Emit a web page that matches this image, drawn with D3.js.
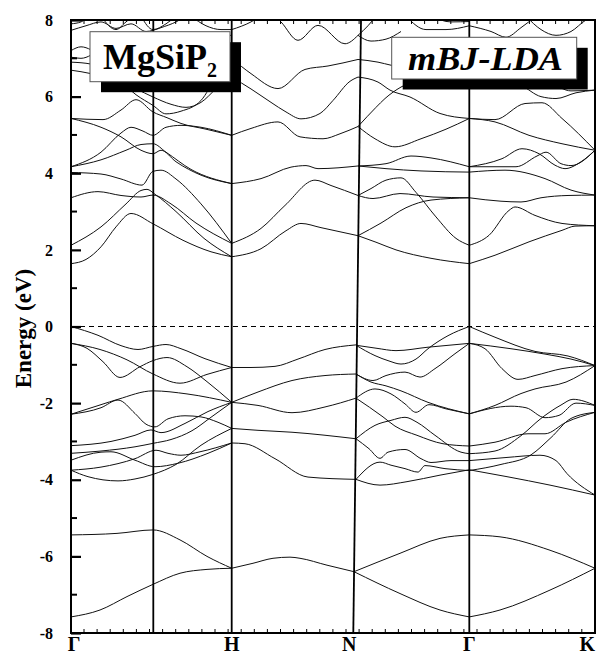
<!DOCTYPE html>
<html>
<head>
<meta charset="utf-8">
<script src="https://cdn.jsdelivr.net/npm/d3@7"></script>
<style>
  html, body { margin: 0; padding: 0; background: #fff; }
  svg { display: block; }
  text { font-family: "Liberation Serif", "DejaVu Serif", serif; font-weight: bold; }
</style>
</head>
<body>
<div id="chart"></div>
<script>
// ---- data: k path (arbitrary units), energies in eV ----
const symLabels   = ['Γ', '', 'H', 'N', 'Γ', 'K'];
const symKTop     = [0, 0.823, 1.607, 2.90, 3.983, 5.24];
const symKBottom  = [0, 0.823, 1.607, 2.823, 3.983, 5.24];
const yTicksMajor = [-8, -6, -4, -2, 0, 2, 4, 6, 8];
const yTicksMinor = [-7, -5, -3, -1, 1, 3, 5, 7];

// valence bands, Γ - H
const valGH = [
  [[0,0],[0.27,-0.23],[0.5,-0.5],[0.67,-0.6],[0.82,-0.52],[0.95,-0.47],[1.1,-0.58],[1.34,-0.84],[1.607,-1.07]],
  [[0,-0.44],[0.29,-0.6],[0.56,-0.87],[0.82,-1.24],[1.09,-1.48],[1.36,-1.25],[1.607,-1.07]],
  [[0,-0.44],[0.16,-0.57],[0.32,-0.92],[0.49,-1.33],[0.69,-1.05],[0.82,-0.89],[0.96,-0.81],[1.16,-1.05],[1.36,-1.44],[1.607,-1.98]],
  [[0,-2.29],[0.3,-2.04],[0.47,-1.9],[0.82,-1.68],[1.16,-1.76],[1.607,-1.98]],
  [[0,-2.29],[0.3,-2.12],[0.47,-1.92],[0.64,-2.27],[0.75,-2.55],[0.84,-2.62],[0.97,-2.41],[1.14,-2.33],[1.3,-2.36],[1.47,-2.5],[1.607,-2.66]],
  [[0,-3.11],[0.4,-3.0],[0.64,-2.84],[0.8,-2.7],[0.9,-2.77],[1.14,-2.53],[1.37,-2.22],[1.607,-1.98]],
  [[0,-3.31],[0.3,-3.25],[0.64,-3.14],[0.82,-3.05],[1.0,-2.95],[1.21,-2.72],[1.41,-2.35],[1.607,-1.98]],
  [[0,-3.49],[0.3,-3.28],[0.4,-3.27],[0.64,-3.49],[0.84,-3.66],[1.07,-3.57],[1.37,-3.31],[1.607,-3.04]],
  [[0,-3.75],[0.3,-3.67],[0.64,-3.45],[0.85,-3.23],[0.97,-3.31],[1.1,-3.36],[1.29,-3.27],[1.607,-3.04]],
  [[0,-3.75],[0.17,-3.92],[0.47,-4.03],[0.64,-3.98],[0.82,-3.86],[1.05,-3.6],[1.3,-3.1],[1.607,-2.66]]
];
// valence bands, H - N
const valHN = [
  [[1.607,-1.07],[1.8,-1.07],[2.04,-1.04],[2.27,-0.85],[2.54,-0.6],[2.85,-0.48]],
  [[1.607,-1.98],[1.87,-1.71],[2.21,-1.41],[2.54,-1.28],[2.85,-1.24]],
  [[1.607,-1.98],[1.87,-2.06],[2.21,-2.25],[2.54,-2.1],[2.85,-1.87]],
  [[1.607,-2.66],[1.87,-2.71],[2.21,-2.76],[2.85,-2.93]],
  [[1.607,-3.04],[1.74,-3.06],[2.04,-3.45],[2.37,-3.93],[2.85,-3.99]]
];
// valence bands, N - Γ
const valNG = [
  [[2.85,-0.49],[3.06,-0.57],[3.25,-0.63],[3.57,-0.54],[3.983,-0.44]],
  [[2.85,-0.49],[3.04,-0.76],[3.18,-0.9],[3.3,-0.98],[3.45,-0.85],[3.57,-0.58],[3.77,-0.24],[3.983,0]],
  [[2.85,-1.24],[3.02,-1.41],[3.15,-1.28],[3.34,-1.19],[3.49,-1.32],[3.64,-1.1],[3.84,-0.71],[3.983,-0.44]],
  [[2.85,-1.24],[3.0,-1.45],[3.15,-1.55],[3.3,-1.68],[3.57,-1.98],[3.983,-2.28]],
  [[2.85,-1.87],[3.04,-1.63],[3.2,-1.76],[3.34,-2.02],[3.45,-2.24],[3.58,-2.04],[3.75,-2.15],[3.983,-2.28]],
  [[2.85,-1.87],[3.12,-2.36],[3.24,-2.6],[3.46,-2.84],[3.72,-3.06],[3.983,-3.12]],
  [[2.85,-2.93],[3.04,-2.58],[3.2,-2.45],[3.34,-2.37],[3.46,-2.5],[3.64,-2.84],[3.9,-3.28],[3.983,-3.32]],
  [[2.85,-2.93],[2.98,-3.19],[3.09,-3.44],[3.17,-3.28],[3.34,-3.21],[3.5,-3.45],[3.6,-3.55],[3.8,-3.5],[3.983,-3.5]],
  [[2.85,-3.99],[3.09,-3.54],[3.2,-3.62],[3.34,-3.71],[3.47,-3.8],[3.54,-3.63],[3.74,-3.71],[3.983,-3.76]],
  [[2.85,-3.99],[3.09,-4.14],[3.36,-4.05],[3.69,-3.88],[3.983,-3.74]]
];
// valence bands, Γ - K
const valGK = [
  [[3.983,0],[4.24,-0.28],[4.64,-0.65],[4.97,-0.77],[5.24,-1.02]],
  [[3.983,-0.44],[4.4,-0.58],[4.74,-0.72],[5.0,-0.85],[5.24,-1.02]],
  [[3.983,-0.44],[4.14,-0.58],[4.31,-1.1],[4.47,-1.38],[4.64,-1.28],[4.91,-1.1],[5.24,-1.02]],
  [[3.983,-2.28],[4.24,-2.06],[4.5,-1.75],[4.64,-1.63],[4.95,-1.45],[5.24,-1.02]],
  [[3.983,-2.28],[4.4,-2.08],[4.55,-2.12],[4.74,-2.38],[4.88,-2.32],[5.05,-2.0],[5.24,-2.06]],
  [[3.983,-3.12],[4.24,-3.02],[4.57,-2.8],[4.74,-2.8],[4.95,-2.5],[5.24,-2.24]],
  [[3.983,-3.32],[4.24,-3.25],[4.5,-2.85],[4.7,-2.4],[4.9,-2.05],[5.02,-1.9],[5.24,-2.06]],
  [[3.983,-3.5],[4.35,-3.42],[4.69,-3.36],[4.85,-3.5],[4.96,-3.84],[5.24,-4.4]],
  [[3.983,-3.74],[4.36,-3.92],[4.79,-4.14],[5.24,-4.4]],
  [[3.983,-3.76],[4.3,-3.6],[4.6,-3.35],[4.8,-2.9],[5.0,-2.4],[5.24,-2.24]]
];
// lower valence bands, whole path
const lowBands = [
  [[0,-5.44],[0.46,-5.4],[0.82,-5.31],[1.09,-5.57],[1.36,-6.0],[1.607,-6.31]],
  [[0,-7.58],[0.29,-7.4],[0.56,-7.05],[0.82,-6.73],[1.09,-6.44],[1.36,-6.34],[1.607,-6.31]],
  [[1.607,-6.31],[1.82,-6.18],[2.02,-6.05],[2.19,-6.02],[2.29,-6.05],[2.56,-6.23],[2.83,-6.4]],
  [[2.83,-6.4],[3.29,-5.92],[3.69,-5.53],[3.983,-5.44]],
  [[2.83,-6.4],[3.29,-6.97],[3.69,-7.4],[3.983,-7.58]],
  [[3.983,-5.44],[4.29,-5.49],[4.79,-5.84],[5.24,-6.31]],
  [[3.983,-7.58],[4.29,-7.4],[4.79,-6.88],[5.24,-6.31]]
];
// conduction bands, Γ - H
const conGH = [
  [[0,1.64],[0.15,1.75],[0.3,2.08],[0.45,2.6],[0.6,2.95],[0.82,2.68],[1.12,2.25],[1.4,1.95],[1.607,1.82]],
  [[0,2.12],[0.3,2.6],[0.55,3.2],[0.7,3.55],[0.76,3.58],[0.84,3.45],[1.05,3.0],[1.33,2.3],[1.607,1.82]],
  [[0,3.36],[0.27,3.52],[0.5,3.42],[0.7,3.38],[0.82,3.43],[1.0,3.2],[1.25,2.7],[1.607,2.17]],
  [[0,4.02],[0.3,3.98],[0.5,3.85],[0.71,3.69],[0.82,4.05],[0.9,4.08],[1.05,3.85],[1.3,3.2],[1.607,2.17]],
  [[0,4.17],[0.3,4.55],[0.5,5.05],[0.6,5.2],[0.72,5.1],[0.82,4.99],[0.95,5.2],[1.1,5.25],[1.3,5.2],[1.607,4.99]],
  [[0,4.17],[0.3,4.35],[0.55,4.6],[0.7,4.75],[0.82,4.77],[0.95,4.55],[1.2,4.1],[1.607,3.73]],
  [[0,5.43],[0.3,5.2],[0.5,4.95],[0.7,4.6],[0.82,4.51],[0.9,4.6],[1.05,4.3],[1.3,3.95],[1.607,3.73]],
  [[0,5.43],[0.32,5.4],[0.5,5.65],[0.65,5.92],[0.82,5.6],[0.96,5.45],[1.1,5.3],[1.35,5.15],[1.607,4.99]],
  [[0,6.69],[0.2,6.6],[0.45,6.4],[0.65,6.2],[0.82,5.99],[1.0,5.8],[1.15,5.72],[1.3,5.85],[1.45,6.2],[1.607,6.51]],
  [[0,6.9],[0.2,6.85],[0.45,6.5],[0.65,6.05],[0.82,5.77],[0.95,5.55],[1.1,5.62],[1.3,5.9],[1.45,6.5],[1.607,7.0]],
  [[0,7.03],[0.1,7.0],[0.3,7.2],[0.6,7.3],[1.0,7.5],[1.607,7.6]],
  [[0,7.2],[0.1,7.3],[0.3,7.1],[0.6,6.9],[1.0,6.8],[1.607,7.0]],
  [[0,7.9],[0.1,7.95],[0.18,8.1]],
  [[0,7.73],[0.15,7.85],[0.3,7.95],[0.45,7.78],[0.6,7.9],[0.75,7.7],[0.82,7.73],[0.9,7.8],[1.05,7.95],[1.15,8.1]],
  [[0.3,8.1],[0.45,7.75],[0.55,7.95],[0.62,8.1]],
  [[0.7,8.1],[0.82,7.75],[0.95,7.9],[1.05,8.1]],
  [[1.2,8.1],[1.35,7.85],[1.5,7.75],[1.607,7.75]]
];
// conduction bands, H - N
const conHN = [
  [[1.607,1.82],[1.9,2.03],[2.15,2.5],[2.3,2.69],[2.5,2.58],[2.87,2.37]],
  [[1.607,2.17],[1.9,2.56],[2.14,3.16],[2.44,3.82],[2.6,3.68],[2.87,3.42]],
  [[1.607,3.73],[1.9,3.86],[2.2,4.16],[2.35,4.2],[2.47,4.12],[2.87,4.19]],
  [[1.607,4.99],[1.8,5.17],[2.07,5.34],[2.29,4.95],[2.52,4.9],[2.69,5.03],[2.87,5.22]],
  [[1.607,6.51],[1.8,6.2],[2.0,5.85],[2.15,5.6],[2.3,5.42],[2.49,5.56],[2.62,5.9],[2.79,6.4],[2.87,6.51]],
  [[1.607,7.0],[1.8,6.6],[2.07,6.21],[2.34,6.71],[2.57,6.8],[2.87,6.97]],
  [[2.0,8.2],[2.1,7.95],[2.27,7.47],[2.47,7.86],[2.74,7.38],[2.87,7.6]],
  [[1.607,7.75],[1.8,7.95],[1.95,8.2]]
];
// conduction bands, N - Γ
const conNG = [
  [[2.87,2.37],[3.05,2.2],[3.25,2.0],[3.6,1.78],[3.983,1.64]],
  [[2.87,2.37],[3.1,2.7],[3.35,3.1],[3.6,3.3],[3.983,3.36]],
  [[2.87,3.42],[3.0,3.6],[3.15,3.82],[3.3,3.88],[3.45,3.5],[3.65,2.86],[3.85,2.3],[3.983,2.12]],
  [[2.87,3.42],[3.02,3.34],[3.29,3.47],[3.62,3.38],[3.983,3.36]],
  [[2.87,4.19],[3.15,4.25],[3.4,4.45],[3.6,4.4],[3.983,4.17]],
  [[2.87,4.19],[3.15,4.12],[3.5,4.06],[3.983,4.03]],
  [[2.87,5.22],[3.04,4.9],[3.24,4.69],[3.5,4.9],[3.75,5.15],[3.983,5.43]],
  [[2.87,5.22],[3.05,5.72],[3.14,5.95],[3.3,6.25],[3.5,6.45],[3.983,6.7]],
  [[2.87,6.51],[3.07,6.38],[3.19,6.17],[3.39,5.99],[3.69,5.56],[3.983,5.43]],
  [[2.87,6.97],[3.07,6.9],[3.2,6.82],[3.5,6.7],[3.983,6.8]],
  [[2.87,7.6],[3.0,7.45],[3.15,7.5],[3.3,7.7]],
  [[2.87,7.6],[2.97,7.85],[3.05,8.1]],
  [[3.35,8.1],[3.55,7.75],[3.75,7.75],[3.983,7.85]],
  [[3.6,8.1],[3.8,7.95],[3.983,7.96]]
];
// conduction bands, Γ - K
const conGK = [
  [[3.983,1.64],[4.24,1.86],[4.58,2.21],[4.91,2.51],[5.04,2.62],[5.24,2.63]],
  [[3.983,2.12],[4.18,2.38],[4.38,3.03],[4.44,3.12],[4.64,2.9],[4.91,2.69],[5.24,2.63]],
  [[3.983,3.36],[4.3,3.27],[4.5,3.25],[4.7,3.36],[4.97,3.42],[5.24,3.43]],
  [[3.983,4.03],[4.34,4.08],[4.74,3.86],[5.0,3.56],[5.24,3.43]],
  [[3.983,4.17],[4.31,4.38],[4.51,4.64],[4.68,4.51],[4.84,4.21],[4.94,4.12],[5.1,4.3],[5.24,4.6]],
  [[3.983,4.17],[4.45,4.17],[4.66,4.45],[4.75,4.55],[4.9,4.25],[5.0,4.2],[5.24,4.6]],
  [[3.983,5.43],[4.24,5.34],[4.58,4.99],[4.91,4.77],[5.24,4.6]],
  [[3.983,5.43],[4.24,5.4],[4.54,5.82],[4.71,5.84],[4.91,5.43],[5.24,4.6]],
  [[3.983,6.7],[4.3,6.5],[4.5,6.3],[4.7,6.0],[4.85,5.95],[5.05,6.1],[5.24,6.17]],
  [[3.983,6.8],[4.4,6.7],[4.8,6.35],[5.0,6.15],[5.24,6.17]],
  [[3.983,7.85],[4.2,7.7],[4.35,7.55],[4.5,7.8],[4.65,8.1]],
  [[4.55,8.1],[4.7,7.75],[4.85,7.6],[5.0,7.7],[5.15,8.0],[5.24,8.1]]
];
const bandSets = [valGH, valHN, valNG, valGK, lowBands, conGH, conHN, conNG, conGK];

// ---- layout ----
const W = 598, H = 657;
const margin = { top: 20, right: 3, bottom: 24, left: 71 };

const svg = d3.select('#chart').append('svg')
  .attr('width', W).attr('height', H);

const x = d3.scaleLinear().domain([0, 5.24]).range([margin.left, W - margin.right]);
const y = d3.scaleLinear().domain([-8, 8]).range([H - margin.bottom, margin.top]);

svg.append('defs').append('clipPath').attr('id', 'plot-clip')
  .append('rect')
    .attr('x', x(0)).attr('y', y(8))
    .attr('width', x(5.24) - x(0)).attr('height', y(-8) - y(8));

const line = d3.line()
  .x(d => x(d[0]))
  .y(d => y(d[1]))
  .curve(d3.curveMonotoneX);

const plot = svg.append('g').attr('clip-path', 'url(#plot-clip)');

// bands
plot.selectAll('path.band')
  .data(bandSets.flat())
  .join('path')
    .attr('class', 'band')
    .attr('d', line)
    .attr('fill', 'none')
    .attr('stroke', '#111')
    .attr('stroke-width', 1);

// Fermi level
plot.append('line')
  .attr('x1', x(0)).attr('x2', x(5.24))
  .attr('y1', y(0)).attr('y2', y(0))
  .attr('stroke', '#000')
  .attr('stroke-width', 1)
  .attr('stroke-dasharray', '5,4');

// high-symmetry lines
plot.selectAll('line.sym')
  .data(d3.range(1, symLabels.length - 1))
  .join('line')
    .attr('class', 'sym')
    .attr('x1', i => x(symKTop[i])).attr('y1', y(8))
    .attr('x2', i => x(symKBottom[i])).attr('y2', y(-8))
    .attr('stroke', '#000')
    .attr('stroke-width', 1.8);

// minor x ticks top and bottom
const xMinor = d3.range(0.13, 5.2, 0.131);
svg.append('g').selectAll('line')
  .data(xMinor)
  .join('line')
    .attr('x1', d => x(d)).attr('x2', d => x(d))
    .attr('y1', y(-8)).attr('y2', y(-8) - 4)
    .attr('stroke', '#000').attr('stroke-width', 1);
svg.append('g').selectAll('line')
  .data(xMinor)
  .join('line')
    .attr('x1', d => x(d)).attr('x2', d => x(d))
    .attr('y1', y(8)).attr('y2', y(8) + 4)
    .attr('stroke', '#000').attr('stroke-width', 1);

// y axis with inward ticks
const yAxis = svg.append('g')
  .attr('transform', `translate(${x(0)},0)`)
  .call(d3.axisLeft(y).tickValues(yTicksMajor).tickSize(-10).tickPadding(18)
    .tickFormat(d => String(d)));
yAxis.select('.domain').remove();
yAxis.selectAll('.tick line').attr('stroke-width', 2.2);
yAxis.selectAll('.tick text')
  .attr('font-size', 16)
  .attr('font-family', '"Liberation Serif", serif')
  .attr('font-weight', 'bold')
  .attr('fill', '#000');

svg.append('g').selectAll('line')
  .data(yTicksMinor)
  .join('line')
    .attr('x1', x(0)).attr('x2', x(0) + 6)
    .attr('y1', d => y(d)).attr('y2', d => y(d))
    .attr('stroke', '#000').attr('stroke-width', 2);

// frame
svg.append('rect')
  .attr('x', x(0)).attr('y', y(8))
  .attr('width', x(5.24) - x(0)).attr('height', y(-8) - y(8))
  .attr('fill', 'none')
  .attr('stroke', '#000')
  .attr('stroke-width', 2);

// x labels
svg.selectAll('text.klabel')
  .data(d3.range(symLabels.length).filter(i => symLabels[i]))
  .join('text')
    .attr('class', 'klabel')
    .attr('x', i => x(symKBottom[i]))
    .attr('dx', i => i === 0 ? 3 : (i === 3 ? -4 : 0))
    .attr('y', H - 6)
    .attr('text-anchor', i => i === symLabels.length - 1 ? 'end' : 'middle')
    .attr('font-size', 20)
    .text(i => symLabels[i]);

// y title
svg.append('text')
  .attr('transform', `translate(31,${y(0) + 2}) rotate(-90)`)
  .attr('text-anchor', 'middle')
  .attr('font-size', 23)
  .text('Energy (eV)');

// label boxes with drop shadows
const boxes = [
  { x: 90, y: 31.7, w: 140, h: 50 },
  { x: 391.7, y: 37.3, w: 185, h: 41.7 }
];
svg.selectAll('rect.shadow')
  .data(boxes)
  .join('rect')
    .attr('class', 'shadow')
    .attr('x', d => d.x + 11).attr('y', d => d.y + 10.5)
    .attr('width', d => d.w).attr('height', d => d.h)
    .attr('fill', '#000');
svg.selectAll('rect.box')
  .data(boxes)
  .join('rect')
    .attr('class', 'box')
    .attr('x', d => d.x).attr('y', d => d.y)
    .attr('width', d => d.w).attr('height', d => d.h)
    .attr('fill', '#fff')
    .attr('stroke', '#555')
    .attr('stroke-width', 1);

const formula = svg.append('text')
  .attr('x', 103).attr('y', 68.5)
  .attr('font-size', 36);
formula.append('tspan').text('MgSiP');
formula.append('tspan').attr('font-size', 20).attr('dy', 8).text('2');

svg.append('text')
  .attr('x', 408).attr('y', 70)
  .attr('font-size', 33)
  .attr('font-style', 'italic')
  .attr('textLength', 155)
  .attr('lengthAdjust', 'spacingAndGlyphs')
  .text('mBJ-LDA');
</script>
</body>
</html>
